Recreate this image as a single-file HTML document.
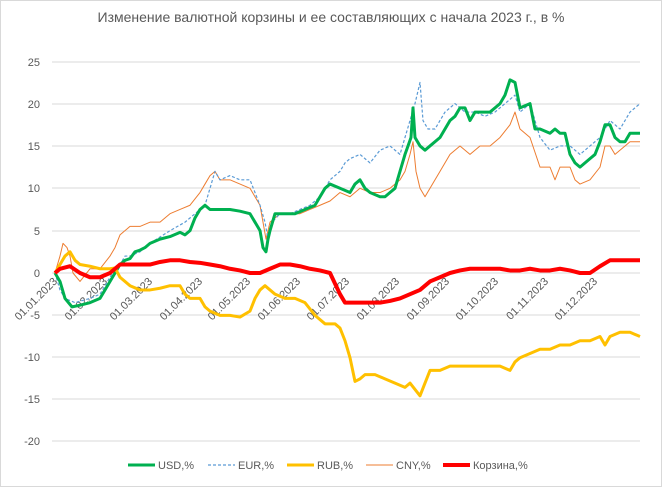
<!DOCTYPE html><html><head><meta charset="utf-8"><style>body{margin:0;background:#fff}svg{display:block;font-family:"Liberation Sans",sans-serif}</style></head><body>
<svg width="662" height="487" xmlns="http://www.w3.org/2000/svg">
<rect x="0.5" y="0.5" width="661" height="486" fill="#fff" stroke="#d9d9d9"/>
<text x="331" y="22" text-anchor="middle" font-size="14" fill="#595959">Изменение валютной корзины и ее составляющих с начала 2023 г., в %</text>
<g stroke="#d9d9d9" stroke-width="1">
<line x1="52" x2="640" y1="62" y2="62"/><line x1="52" x2="640" y1="104" y2="104"/><line x1="52" x2="640" y1="146" y2="146"/><line x1="52" x2="640" y1="188" y2="188"/><line x1="52" x2="640" y1="231" y2="231"/><line x1="52" x2="640" y1="315" y2="315"/><line x1="52" x2="640" y1="357" y2="357"/><line x1="52" x2="640" y1="399" y2="399"/><line x1="52" x2="640" y1="441" y2="441"/>
</g>
<line x1="52" x2="640" y1="273" y2="273" stroke="#d9d9d9"/>
<g font-size="11" fill="#595959" text-anchor="end">
<text x="40" y="66">25</text><text x="40" y="108">20</text><text x="40" y="150">15</text><text x="40" y="192">10</text><text x="40" y="235">5</text><text x="40" y="277">0</text><text x="40" y="319">-5</text><text x="40" y="361">-10</text><text x="40" y="403">-15</text><text x="40" y="445">-20</text>
</g>
<g font-size="11" fill="#595959" text-anchor="end">
<text transform="translate(58,282) rotate(-45)">01.01.2023</text>
<text transform="translate(108,282) rotate(-45)">01.02.2023</text>
<text transform="translate(153,282) rotate(-45)">01.03.2023</text>
<text transform="translate(203,282) rotate(-45)">01.04.2023</text>
<text transform="translate(251,282) rotate(-45)">01.05.2023</text>
<text transform="translate(301,282) rotate(-45)">01.06.2023</text>
<text transform="translate(350,282) rotate(-45)">01.07.2023</text>
<text transform="translate(400,282) rotate(-45)">01.08.2023</text>
<text transform="translate(450,282) rotate(-45)">01.09.2023</text>
<text transform="translate(499,282) rotate(-45)">01.10.2023</text>
<text transform="translate(549,282) rotate(-45)">01.11.2023</text>
<text transform="translate(598,282) rotate(-45)">01.12.2023</text>
</g>
<g fill="none" stroke-linejoin="round" transform="translate(0,273) scale(1,-8.47)">
<polyline vector-effect="non-scaling-stroke" stroke="#ed7d31" stroke-width="1" points="55,0 60,2 63,3.5 67,3 70,2 73,0 80,-1 90,0.5 100,0.5 110,2 115,3 120,4.5 125,5 130,5.5 140,5.5 150,6 160,6 170,7 180,7.5 190,8 200,9.5 205,10.5 210,11.5 215,12 220,11 230,11 240,10.5 250,10 255,9 260,8 263,6 266,4 270,6 280,7 290,7 300,7 310,7.5 320,8 330,8.5 340,9.5 350,9 360,10 370,9.5 380,9.5 390,10 400,11 405,12 410,14 413,15.5 416,12 420,10 425,9 430,10 440,12 450,14 460,15 470,14 480,15 490,15 500,16 510,17.5 515,19 520,17 530,16 540,12.5 550,12.5 555,11 560,12.5 570,12.5 575,11 580,10.5 590,11 600,12.5 605,15 610,15 615,14 625,15 630,15.5 640,15.5"/>
<polyline vector-effect="non-scaling-stroke" stroke="#5b9bd5" stroke-width="1.2" stroke-dasharray="3,2" points="55,0 60,-2 65,-3 75,-3.5 90,-3 100,-2.5 110,-0.5 115,0.5 120,1 125,2 130,2 140,2.5 150,3.5 170,5 185,6 195,7 205,8 210,10 215,12 220,11 230,11.5 240,11 250,11 255,9.5 260,8 265,6 268,4 272,6 280,7 290,7 300,7.5 310,8 320,9 330,11 340,12 345,13 350,13.5 360,14 370,13 380,14.5 390,15 400,14 405,16 410,18 415,20 420,22.5 423,18 428,17 435,17 445,19 455,20 465,19 475,19 485,18.5 495,19 505,20 515,21 520,19 530,20 540,16 550,14.5 560,15 570,15 580,14 590,15 600,16 610,18 620,17 630,19 640,20"/>
<polyline vector-effect="non-scaling-stroke" stroke="#00b050" stroke-width="3" points="55,0 60,-1 65,-3 72,-4 80,-3.8 90,-3.5 100,-3 105,-2 110,-1 115,0 120,1 125,1.5 130,1.7 135,2.5 140,2.7 145,3 150,3.5 160,4 170,4.3 180,4.8 185,4.5 190,5 195,6.5 200,7.5 205,8 210,7.5 220,7.5 230,7.5 240,7.3 250,7 255,6 260,5 263,3 266,2.5 268,4 270,5 275,7 285,7 295,7 305,7.5 315,8 320,9 325,10 330,10.5 340,10 350,9.5 355,10.5 360,11 365,10 370,9.5 380,9 385,9 390,9.5 395,10 400,12 405,14 408,15 411,16 413,19.5 415,16 420,15 425,14.5 430,15 440,16 445,17 450,18 455,18.5 460,19.5 465,19.5 470,18 475,19 480,19 490,19 495,19.5 500,20 505,21 510,22.8 515,22.5 520,19.5 530,20 535,17 540,17 550,16.5 555,17 560,16.5 565,16.5 570,14 575,13 580,12.5 585,13 590,13.5 595,14 600,15.5 605,17.5 610,17.5 615,16 620,15.5 625,15.5 630,16.5 640,16.5"/>
<polyline vector-effect="non-scaling-stroke" stroke="#ffc000" stroke-width="3" points="55,0 60,1 65,2 70,2.5 75,1.5 80,1 90,0.8 100,0.5 110,0.5 115,0.6 120,-0.5 130,-1.5 140,-2 150,-2 160,-1.8 170,-1.5 180,-1.5 185,-2.5 190,-3 200,-3 205,-4 210,-4.5 220,-5 230,-5 240,-5.2 250,-4.5 255,-3 260,-2 265,-1.5 270,-2 275,-2.5 285,-3 295,-3 305,-3.5 315,-5 325,-6 335,-6 340,-6.5 345,-8 350,-10 355,-12.8 360,-12.5 365,-12 375,-12 385,-12.5 395,-13 405,-13.5 410,-13 420,-14.5 425,-13 430,-11.5 440,-11.5 450,-11 460,-11 470,-11 480,-11 490,-11 500,-11 510,-11.5 515,-10.5 520,-10 530,-9.5 540,-9 550,-9 560,-8.5 570,-8.5 580,-8 590,-8 600,-7.5 605,-8.5 610,-7.5 620,-7 630,-7 640,-7.5"/>
<polyline vector-effect="non-scaling-stroke" stroke="#ff0000" stroke-width="4" points="55,0 60,0.5 70,0.8 80,0 90,-0.5 100,-0.5 110,0 115,0.5 120,1 130,1 140,1 150,1 160,1.3 170,1.5 180,1.5 190,1.3 200,1.2 210,1 220,0.8 230,0.5 240,0.3 250,0 260,0 270,0.5 280,1 290,1 300,0.8 310,0.5 320,0.3 330,0 340,-2.5 345,-3.5 355,-3.5 370,-3.5 380,-3.5 390,-3.3 400,-3 410,-2.5 420,-2 430,-1 440,-0.5 450,0 460,0.3 470,0.5 480,0.5 490,0.5 500,0.5 510,0.3 520,0.3 530,0.5 540,0.3 550,0.3 560,0.5 570,0.3 580,0 590,0 600,0.8 610,1.5 620,1.5 640,1.5"/>
</g>
<g font-size="11" fill="#595959">
<line x1="128" x2="155" y1="465" y2="465" stroke="#00b050" stroke-width="3"/><text x="158" y="469">USD,%</text>
<line x1="208" x2="235" y1="465" y2="465" stroke="#5b9bd5" stroke-width="1.2" stroke-dasharray="3,2"/><text x="238" y="469">EUR,%</text>
<line x1="287" x2="314" y1="465" y2="465" stroke="#ffc000" stroke-width="3"/><text x="317" y="469">RUB,%</text>
<line x1="366" x2="393" y1="465" y2="465" stroke="#ed7d31" stroke-width="1"/><text x="396" y="469">CNY,%</text>
<line x1="443" x2="470" y1="465" y2="465" stroke="#ff0000" stroke-width="4"/><text x="473" y="469">Корзина,%</text>
</g>
</svg>
</body></html>
